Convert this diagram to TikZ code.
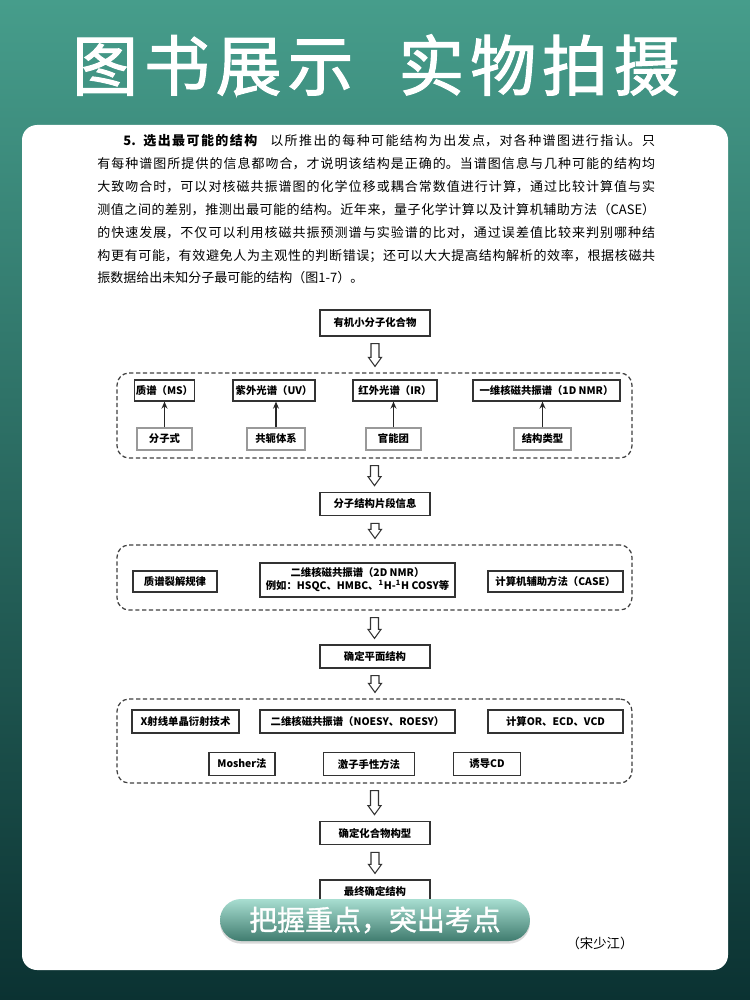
\documentclass[tikz,border=0pt]{standalone}
\usepackage{fontspec}
\setmainfont{Noto Sans CJK SC}
\newfontfamily\titlefont{Noto Sans CJK SC}[LetterSpace=9, FakeBold=1.6]
\newfontfamily\bannerfont{Noto Sans CJK SC}[FakeBold=1.2]
\usetikzlibrary{arrows.meta, calc, shadows}
\XeTeXlinebreaklocale "zh"
\XeTeXlinebreakskip=0pt plus 1pt

\definecolor{bgtop}{RGB}{70,157,139}
\definecolor{bgmid}{RGB}{34,100,88}
\definecolor{bgbot}{RGB}{11,50,50}
\definecolor{pilltop}{RGB}{168,222,209}
\definecolor{pillbot}{RGB}{64,124,111}

\begin{document}
\begin{tikzpicture}[
    x=0.02cm, y=-0.02cm,
    box/.style={rectangle, draw=black!80, line width=0.7pt, fill=white, inner sep=1pt, minimum height=0.46cm, align=center, font=\bfseries\fontsize{5.9}{7.4}\selectfont},
    minor/.style={box, draw=black!40},
    chain/.style={box, minimum width=2.2cm},
    group/.style={rectangle, draw=black!75, line width=0.7pt, dash pattern=on 2.4pt off 1.5pt, rounded corners=0.24cm, minimum width=10.3cm},
    arrow/.style={-{Stealth[length=4pt, width=3.4pt]}, line width=0.7pt, black!85},
    hollow/.style={draw=black!80, line width=0.6pt, to path={let \p1=(\tikztostart), \p2=(\tikztotarget) in
        (\x1-0.08cm,\y1-0.14cm) -- (\x1-0.08cm,\y2+0.30cm) -- (\x1-0.13cm,\y2+0.30cm) -- (\x1,\y2+0.12cm)
        -- (\x1+0.13cm,\y2+0.30cm) -- (\x1+0.08cm,\y2+0.30cm) -- (\x1+0.08cm,\y1-0.14cm) -- cycle}},
    para/.style={anchor=north west, inner sep=0pt, text width=11.16cm, align=justify, font=\fontsize{7.4}{13.04}\selectfont}
]
\useasboundingbox (0,0) rectangle (750,1000);

% Background and card
\fill[top color=bgtop, middle color=bgmid, bottom color=bgbot] (0,0) rectangle (750,1000);
\fill[white, rounded corners=0.3cm] (22,125) rectangle (728,970);

% Title
\node[text=white, font=\titlefont\fontsize{37.5}{42}\selectfont] (title) at (376,65) {图书展示\hspace{0.9cm}实物拍摄};

% Paragraph
\node[para] (para) at (97,134) {\hspace*{2em}{\bfseries 5. 选出最可能的结构}\hspace{1em}以所推出的每种可能结构为出发点，对各种谱图进行指认。只\linebreak
有每种谱图所提供的信息都吻合，才说明该结构是正确的。当谱图信息与几种可能的结构均\linebreak
大致吻合时，可以对核磁共振谱图的化学位移或耦合常数值进行计算，通过比较计算值与实\linebreak
测值之间的差别，推测出最可能的结构。近年来，量子化学计算以及计算机辅助方法（CASE）\linebreak
的快速发展，不仅可以利用核磁共振预测谱与实验谱的比对，通过误差值比较来判别哪种结\linebreak
构更有可能，有效避免人为主观性的判断错误；还可以大大提高结构解析的效率，根据核磁共\linebreak
振数据给出未知分子最可能的结构（图1-7）。};

% Flow chart
\node[chain, minimum height=0.52cm] (start) at (375,323) {有机小分子化合物};

\node[group, minimum height=1.7cm] (g1) at (374.5,415.5) {};
\node[box, minimum width=1.14cm, minimum height=0.42cm] (ms) at (164.5,390.5) {质谱（MS）};
\node[box, minimum width=1.64cm, minimum height=0.42cm] (uv) at (274,390.5) {紫外光谱（UV）};
\node[box, minimum width=1.68cm, minimum height=0.42cm] (ir) at (395,390.5) {红外光谱（IR）};
\node[box, minimum width=2.94cm, minimum height=0.42cm] (nmr1) at (546.5,390.5) {一维核磁共振谱（1D NMR）};
\node[minor, minimum width=1.1cm, minimum height=0.44cm] (fmla) at (164.5,439) {分子式};
\node[minor, minimum width=1.16cm, minimum height=0.44cm] (conj) at (276,439) {共轭体系};
\node[minor, minimum width=1.1cm, minimum height=0.44cm] (func) at (393.5,439) {官能团};
\node[minor, minimum width=1.14cm, minimum height=0.44cm] (type) at (542.5,439) {结构类型};

\draw[arrow] (fmla.north) -- (fmla.north |- ms.south);
\draw[arrow] (conj.north) -- (conj.north |- uv.south);
\draw[arrow] (func.north) -- (func.north |- ir.south);
\draw[arrow] (type.north) -- (type.north |- nmr1.south);

\node[chain, minimum height=0.47cm] (frag) at (375,504) {分子结构片段信息};

\node[group, minimum height=1.3cm] (g2) at (374.5,577.5) {};
\node[box, minimum width=1.68cm, minimum height=0.42cm] (mslaw) at (175,581.5) {质谱裂解规律};
\node[box, minimum width=3.9cm, minimum height=0.68cm] (nmr2) at (357.5,580) {二维核磁共振谱（2D NMR）\\例如：HSQC、HMBC、\textsuperscript{1}H-\textsuperscript{1}H COSY等};
\node[box, minimum width=2.7cm, minimum height=0.42cm] (case) at (555.5,581.5) {计算机辅助方法（CASE）};

\node[chain] (plane) at (375,656.5) {确定平面结构};

\node[group, minimum height=1.68cm] (g3) at (374.5,741) {};
\node[box, minimum width=2.14cm] (xray) at (185.5,721.5) {X射线单晶衍射技术};
\node[box, minimum width=3.9cm] (noesy) at (357.5,721.5) {二维核磁共振谱（NOESY、ROESY）};
\node[box, minimum width=2.7cm] (calc) at (555.5,721.5) {计算OR、ECD、VCD};
\node[box, minimum width=1.32cm] (mosher) at (242,764) {Mosher法};
\node[box, minimum width=1.82cm] (exciton) at (369,764) {激子手性方法};
\node[box, minimum width=1.34cm] (induced) at (487,764) {诱导CD};

\node[chain, minimum height=0.47cm] (config) at (375,833) {确定化合物构型};
\node[chain] (final) at (375,891.5) {最终确定结构};

% Hollow arrows
\draw[hollow] (start.south) to (g1.north);
\draw[hollow] (g1.south) to (frag.north);
\draw[hollow] (frag.south) to (g2.north);
\draw[hollow] (g2.south) to (plane.north);
\draw[hollow] (plane.south) to (g3.north);
\draw[hollow] (g3.south) to (config.north);
\draw[hollow] (config.south) to (final.north);

% Banner
\node[rectangle, rounded corners=0.42cm, minimum width=6.2cm, minimum height=0.84cm, top color=pilltop, bottom color=pillbot,
      drop shadow={opacity=0.3, shadow xshift=0pt, shadow yshift=-1.5pt}, text=white, font=\bannerfont\fontsize{15.9}{18}\selectfont] (banner) at (375,920) {把握重点，突出考点};
\node[font=\fontsize{7.6}{9}\selectfont] (author) at (600,943) {（宋少江）};

\end{tikzpicture}
\end{document}
